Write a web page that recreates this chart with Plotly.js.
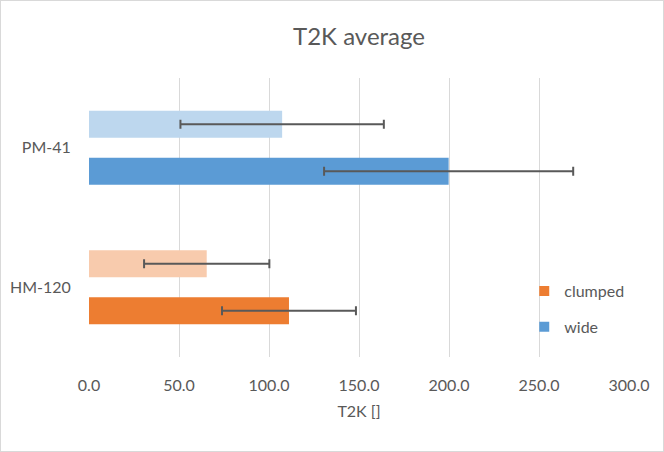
<!DOCTYPE html>
<html>
<head>
<meta charset="utf-8">
<script src="https://cdn.plot.ly/plotly-3.0.1.min.js"></script>
<style>
  html, body { margin: 0; padding: 0; background: #fff; }
  #wrap { position: relative; width: 664px; height: 452px; }
  #chart { width: 664px; height: 452px; }
  #frame { position: absolute; left: 0; top: 0; width: 664px; height: 452px; box-sizing: border-box; border: 1px solid #d9d9d9; pointer-events: none; }
</style>
</head>
<body>
<div id="wrap"><div id="chart"></div><div id="frame"></div></div>
<script>
// Data
const categories = ['HM-120', 'PM-41'];
const lightValues = [65.4, 107.3];
const lightErrors = [34.8, 56.5];
const darkValues = [111.1, 199.8];
const darkErrors = [37.2, 69.2];
const lightColors = ['#f8cbad', '#bdd7ee'];
const darkColors = ['#ed7d31', '#5b9bd5'];
const legendNames = ['clumped', 'wide'];
const legendColors = ['#ed7d31', '#5b9bd5'];
const xTicks = [0, 50, 100, 150, 200, 250, 300];

const font = 'Lato, "Open Sans", sans-serif';
const txt = '#595959';
const errStyle = { type: 'data', symmetric: true, color: '#595959', thickness: 2, width: 4.5 };

const traces = [
  {
    type: 'bar', orientation: 'h', y: categories, x: darkValues,
    marker: { color: darkColors }, width: 0.194, offset: -0.265,
    error_x: Object.assign({ array: darkErrors }, errStyle),
    showlegend: false, hoverinfo: 'x'
  },
  {
    type: 'bar', orientation: 'h', y: categories, x: lightValues,
    marker: { color: lightColors }, width: 0.194, offset: 0.071,
    error_x: Object.assign({ array: lightErrors }, errStyle),
    showlegend: false, hoverinfo: 'x'
  }
];
legendNames.forEach((n, i) => {
  traces.push({
    type: 'scatter', mode: 'markers', x: [null], y: [null], name: n,
    legendgroup: n,
    marker: { symbol: 'square', size: 10, color: legendColors[i] },
    showlegend: true, hoverinfo: 'skip'
  });
});

const layout = {
  width: 664, height: 452,
  margin: { l: 89, r: 35, t: 78, b: 95 },
  paper_bgcolor: '#fff', plot_bgcolor: '#fff',
  font: { family: font, color: txt, size: 16 },
  title: { text: 'T2K average', font: { family: font, size: 24, color: txt }, x: 0.5, xref: 'paper', y: 0.918, yanchor: 'middle' },
  barmode: 'overlay',
  xaxis: {
    range: [0, 300], tickvals: xTicks, ticktext: xTicks.map(v => v.toFixed(1)),
    showgrid: true, gridcolor: '#d9d9d9', gridwidth: 1, zeroline: false, showline: false,
    ticks: 'outside', ticklen: 14, tickcolor: 'rgba(0,0,0,0)',
    tickfont: { family: font, size: 16, color: txt },
    title: { text: 'T2K []', font: { family: font, size: 16, color: txt }, standoff: 12 },
    fixedrange: true
  },
  yaxis: {
    type: 'category', categoryorder: 'array', categoryarray: categories,
    range: [-0.5, 1.5], showgrid: false, zeroline: false, showline: false,
    ticks: 'outside', ticklen: 14, tickcolor: 'rgba(0,0,0,0)',
    tickfont: { family: font, size: 16, color: txt },
    fixedrange: true
  },
  legend: {
    x: 0.806, xanchor: 'left', y: 0.2975, yanchor: 'top',
    bgcolor: 'rgba(255,255,255,0)', borderwidth: 0,
    font: { family: font, size: 16, color: txt },
    traceorder: 'grouped', tracegroupgap: 12
  },
  showlegend: true
};

Plotly.newPlot('chart', traces, layout, { displayModeBar: false, staticPlot: true });
</script>
</body>
</html>
